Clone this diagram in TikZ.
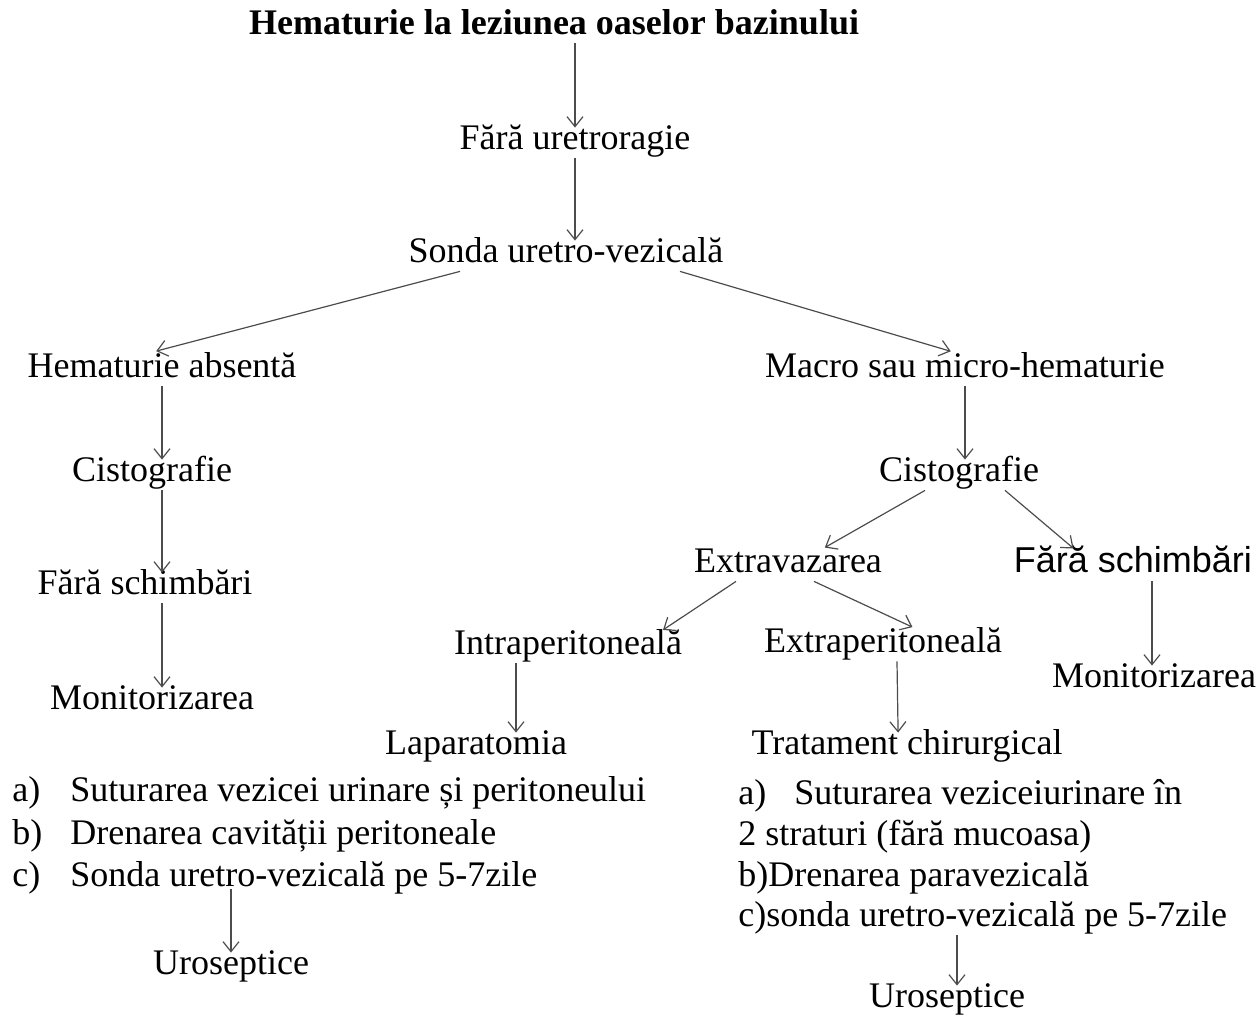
\documentclass[tikz,border=0pt]{standalone}
\usepackage{fontspec}
\setmainfont{Liberation Serif}
\newfontfamily\sansfs{Liberation Sans}
\usepackage{tikz}
\usetikzlibrary{arrows.meta,positioning,calc}

\begin{document}
\begin{tikzpicture}[x=0.5pt,y=-0.5pt,
  >={Straight Barb[length=5pt,width=8pt]},
  lbl/.style={inner sep=0pt, font=\fontsize{18}{21}\selectfont, text height=13.5pt, text depth=4.5pt},
  arr/.style={->, draw=black!70, line width=0.6pt, shorten >=-3pt}]
  \useasboundingbox (0,0) rectangle (1260,1017);
  % top of the tree
  \node[lbl, font=\bfseries\fontsize{18}{21}\selectfont] (tit) at (554,25) {Hematurie la leziunea oaselor bazinului};
  \node[lbl] (fu) at (575,140) {Fără uretroragie};
  \node[lbl] (sv) at (566,253) {Sonda uretro-vezicală};
  \node[lbl] (ha) at (162,368) {Hematurie absentă};
  \node[lbl] (mh) at (965,368) {Macro sau micro-hematurie};
  % left branch
  \node[lbl] (cl) at (152,472) {Cistografie};
  \node[lbl] (fl) at (145,585) {Fără schimbări};
  \node[lbl] (ml) at (152,700) {Monitorizarea};
  % right branch
  \node[lbl] (cr) at (959,472) {Cistografie};
  \node[lbl] (ev) at (788,563) {Extravazarea};
  \node[lbl, font=\sansfs\fontsize{18}{21}\selectfont] (fr) at (1133,563) {Fără schimbări};
  \node[lbl] (ip) at (568,645) {Intraperitoneală};
  \node[lbl] (ep) at (883,643) {Extraperitoneală};
  \node[lbl] (mr) at (1154,678) {Monitorizarea};
  \node[lbl] (lap) at (476,745) {Laparatomia};
  \node[lbl] (tc) at (907,745) {Tratament chirurgical};
  % lists
  \node[lbl, anchor=west] (la) at (12,792) {\makebox[29pt][l]{a)}Suturarea vezicei urinare și peritoneului};
  \node[lbl, anchor=west] (lb) at (12,835) {\makebox[29pt][l]{b)}Drenarea cavității peritoneale};
  \node[lbl, anchor=west] (lc) at (12,877) {\makebox[29pt][l]{c)}Sonda uretro-vezicală pe 5-7zile};
  \node[lbl] (ul) at (231,965) {Uroseptice};
  \node[lbl, anchor=west] (ra) at (738,795) {\makebox[28pt][l]{a)}Suturarea veziceiurinare în};
  \node[lbl, anchor=west] (rb) at (738,836) {2 straturi (fără mucoasa)};
  \node[lbl, anchor=west] (rc) at (738,877) {b)Drenarea paravezicală};
  \node[lbl, anchor=west] (rd) at (738,917) {c)sonda uretro-vezicală pe 5-7zile};
  \node[lbl] (ur) at (947,998) {Uroseptice};
  \coordinate (urt) at ([xshift=5pt]ur.north);

  \draw[arr] (tit.south -| fu) -- (fu.north);
  \draw[arr] (fu.south) -- (fu.south |- sv.north);
  \draw[arr] ([xshift=-53pt]sv.south) -- (ha.north);
  \draw[arr] ([xshift=57pt]sv.south) -- ([xshift=-10pt]mh.north);
  \draw[arr] (ha.south) -- (ha.south |- cl.north);
  \draw[arr] (cl.south -| ha) -- (fl.north -| ha);
  \draw[arr] (fl.south -| ha) -- (ml.north -| ha);
  \draw[arr] (mh.south) -- (mh.south |- cr.north);
  \draw[arr] ([xshift=-17pt]cr.south) -- ([xshift=21pt]ev.north);
  \draw[arr] ([xshift=23pt]cr.south) -- ([xshift=-32pt]fr.north);
  \draw[arr] ([xshift=-26pt]ev.south) -- ([xshift=50pt]ip.north);
  \draw[arr] ([xshift=13pt]ev.south) -- ([xshift=12pt]ep.north);
  \draw[arr] ([xshift=7pt]ep.south) -- ([xshift=-4.5pt]tc.north);
  \draw[arr] ([xshift=-26pt]ip.south) -- ([xshift=20pt]lap.north);
  \draw[arr] ([xshift=9.5pt]fr.south) -- ([xshift=-1pt]mr.north);
  \draw[arr, shorten <=-3pt] (lc.south -| ul) -- (ul.north);
  \draw[arr] (rd.south -| urt) -- (urt);
\end{tikzpicture}
\end{document}
